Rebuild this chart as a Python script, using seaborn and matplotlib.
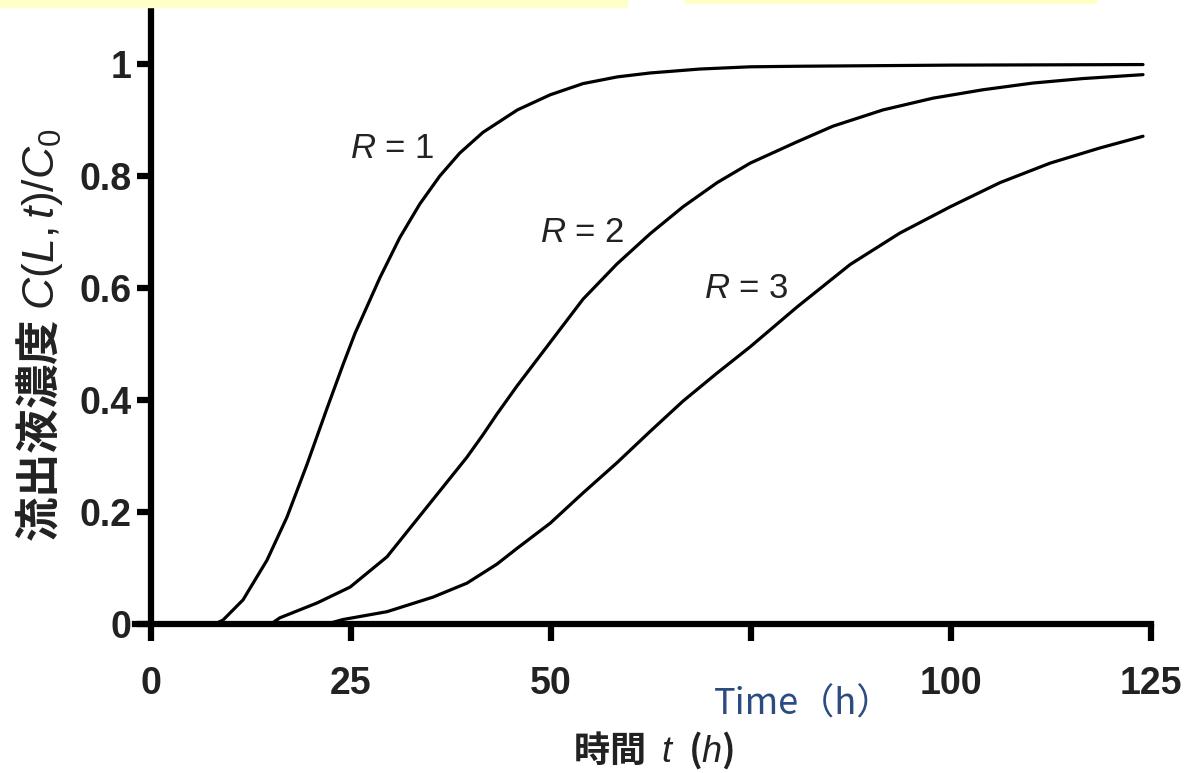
import matplotlib.pyplot as plt
import seaborn as sns
import pandas as pd
from matplotlib.patches import Rectangle

# values
t_r1 = [8, 9, 11.5, 14.5, 17, 19.5, 22, 24, 25.5, 28.6, 31.1, 33.6, 36.1, 38.6,
        41.5, 45.8, 49.9, 54, 58.3, 62.4, 68.6, 74.9, 81, 100, 124]
c_r1 = [0, 0.007, 0.043, 0.114, 0.191, 0.285, 0.385, 0.463, 0.519, 0.618, 0.690,
        0.750, 0.800, 0.841, 0.878, 0.918, 0.945, 0.965, 0.977, 0.984, 0.991,
        0.995, 0.996, 0.998, 0.999]

t_r2 = [15, 16.1, 20.75, 24.9, 29.5, 34.5, 39.5, 41.5, 43.25, 45.75, 49.9, 54,
        58.25, 62.4, 66.5, 70.75, 74.9, 80.75, 85.25, 91.5, 97.75, 104, 110.25,
        116.5, 124]
c_r2 = [0, 0.011, 0.0375, 0.066, 0.12, 0.209, 0.298, 0.338, 0.375, 0.425, 0.503,
        0.58, 0.643, 0.697, 0.745, 0.788, 0.823, 0.861, 0.889, 0.918, 0.939,
        0.954, 0.966, 0.974, 0.981]

t_r3 = [22, 24, 29.5, 35.25, 39.5, 43.25, 45.75, 49.9, 54, 58.25, 62.4, 66.5,
        70.75, 74.9, 80.75, 87.4, 93.6, 99.9, 106.1, 112.4, 118.6, 124]
c_r3 = [0, 0.008, 0.022, 0.048, 0.073, 0.107, 0.135, 0.18, 0.234, 0.288, 0.344,
        0.398, 0.448, 0.495, 0.566, 0.642, 0.698, 0.745, 0.788, 0.823, 0.85, 0.871]

x_ticks = [0, 25, 50, 75, 100, 125]
x_labels = ['0', '25', '50', '', '100', '125']
y_ticks = [0, 0.2, 0.4, 0.6, 0.8, 1.0]
y_labels = ['0', '0.2', '0.4', '0.6', '0.8', '1']

curve_labels = ['$R$ = 1', '$R$ = 2', '$R$ = 3']
label_pos = [(30.1, 0.85), (53.9, 0.70), (74.4, 0.60)]

sns.set_style('ticks')
plt.rcParams['font.family'] = ['Liberation Sans', 'Noto Sans CJK JP']
plt.rcParams['mathtext.fontset'] = 'custom'
plt.rcParams['mathtext.rm'] = 'Liberation Sans'
plt.rcParams['mathtext.it'] = 'Liberation Sans:italic'

fig = plt.figure(figsize=(11.97, 7.73), dpi=100)
ax = fig.add_axes([135 / 1197, 1 - 624 / 773, 1016 / 1197, 616 / 773])

for t, c in [(t_r1, c_r1), (t_r2, c_r2), (t_r3, c_r3)]:
    df = pd.DataFrame({'t': t, 'c': c})
    sns.lineplot(data=df, x='t', y='c', color='black', linewidth=2.3, ax=ax)

for txt, (x, y) in zip(curve_labels, label_pos):
    ax.text(x, y, txt, fontsize=25, color='#222222', ha='center', va='center')

ax.set_xlim(-2, 125)
ax.set_ylim(0, 1.1)
ax.set_xticks(x_ticks)
ax.set_xticklabels(x_labels)
ax.set_yticks(y_ticks)
ax.set_yticklabels(y_labels)
ax.set_xlabel('')
ax.set_ylabel('')

for s in ['top', 'right']:
    ax.spines[s].set_visible(False)
ax.spines['left'].set_position(('data', 0))
for s in ['left', 'bottom']:
    ax.spines[s].set_linewidth(4.5)
    ax.spines[s].set_color('black')

ax.tick_params(axis='x', length=12, width=4.5, pad=18, labelsize=27, color='black')
ax.tick_params(axis='y', length=10, width=4.5, pad=4, labelsize=27, color='black')
for lab in ax.get_xticklabels() + ax.get_yticklabels():
    lab.set_fontweight('bold')
    lab.set_color('#222222')

# CJK font as base so the plain part of the mathtext strings has the glyphs
fig.text(39 / 1197, 1 - 335 / 773, '流出液濃度 $C(L,t)/C_0$', rotation=90,
         ha='center', va='center', fontsize=32, color='#222222',
         family='Noto Sans CJK JP', fontweight='bold')
fig.text(654 / 1197, 1 - 750 / 773, '時間  $t$  ($h$)', ha='center', va='center',
         fontsize=26, color='#222222', family='Noto Sans CJK JP', fontweight='bold')
fig.text(804 / 1197, 1 - 705 / 773, 'Time（h）', ha='center', va='center',
         fontsize=26, color='#2b4c7e', family='Noto Sans CJK JP')

# yellow highlight strips at the top edge
fig.patches.append(Rectangle((0, 1 - 7 / 773), 627 / 1197, 7 / 773,
                             transform=fig.transFigure, color='#ffffc8', zorder=5))
fig.patches.append(Rectangle((685 / 1197, 1 - 3 / 773), 411 / 1197, 3 / 773,
                             transform=fig.transFigure, color='#ffffc8', zorder=5))

fig.savefig('out.png', dpi=100)
